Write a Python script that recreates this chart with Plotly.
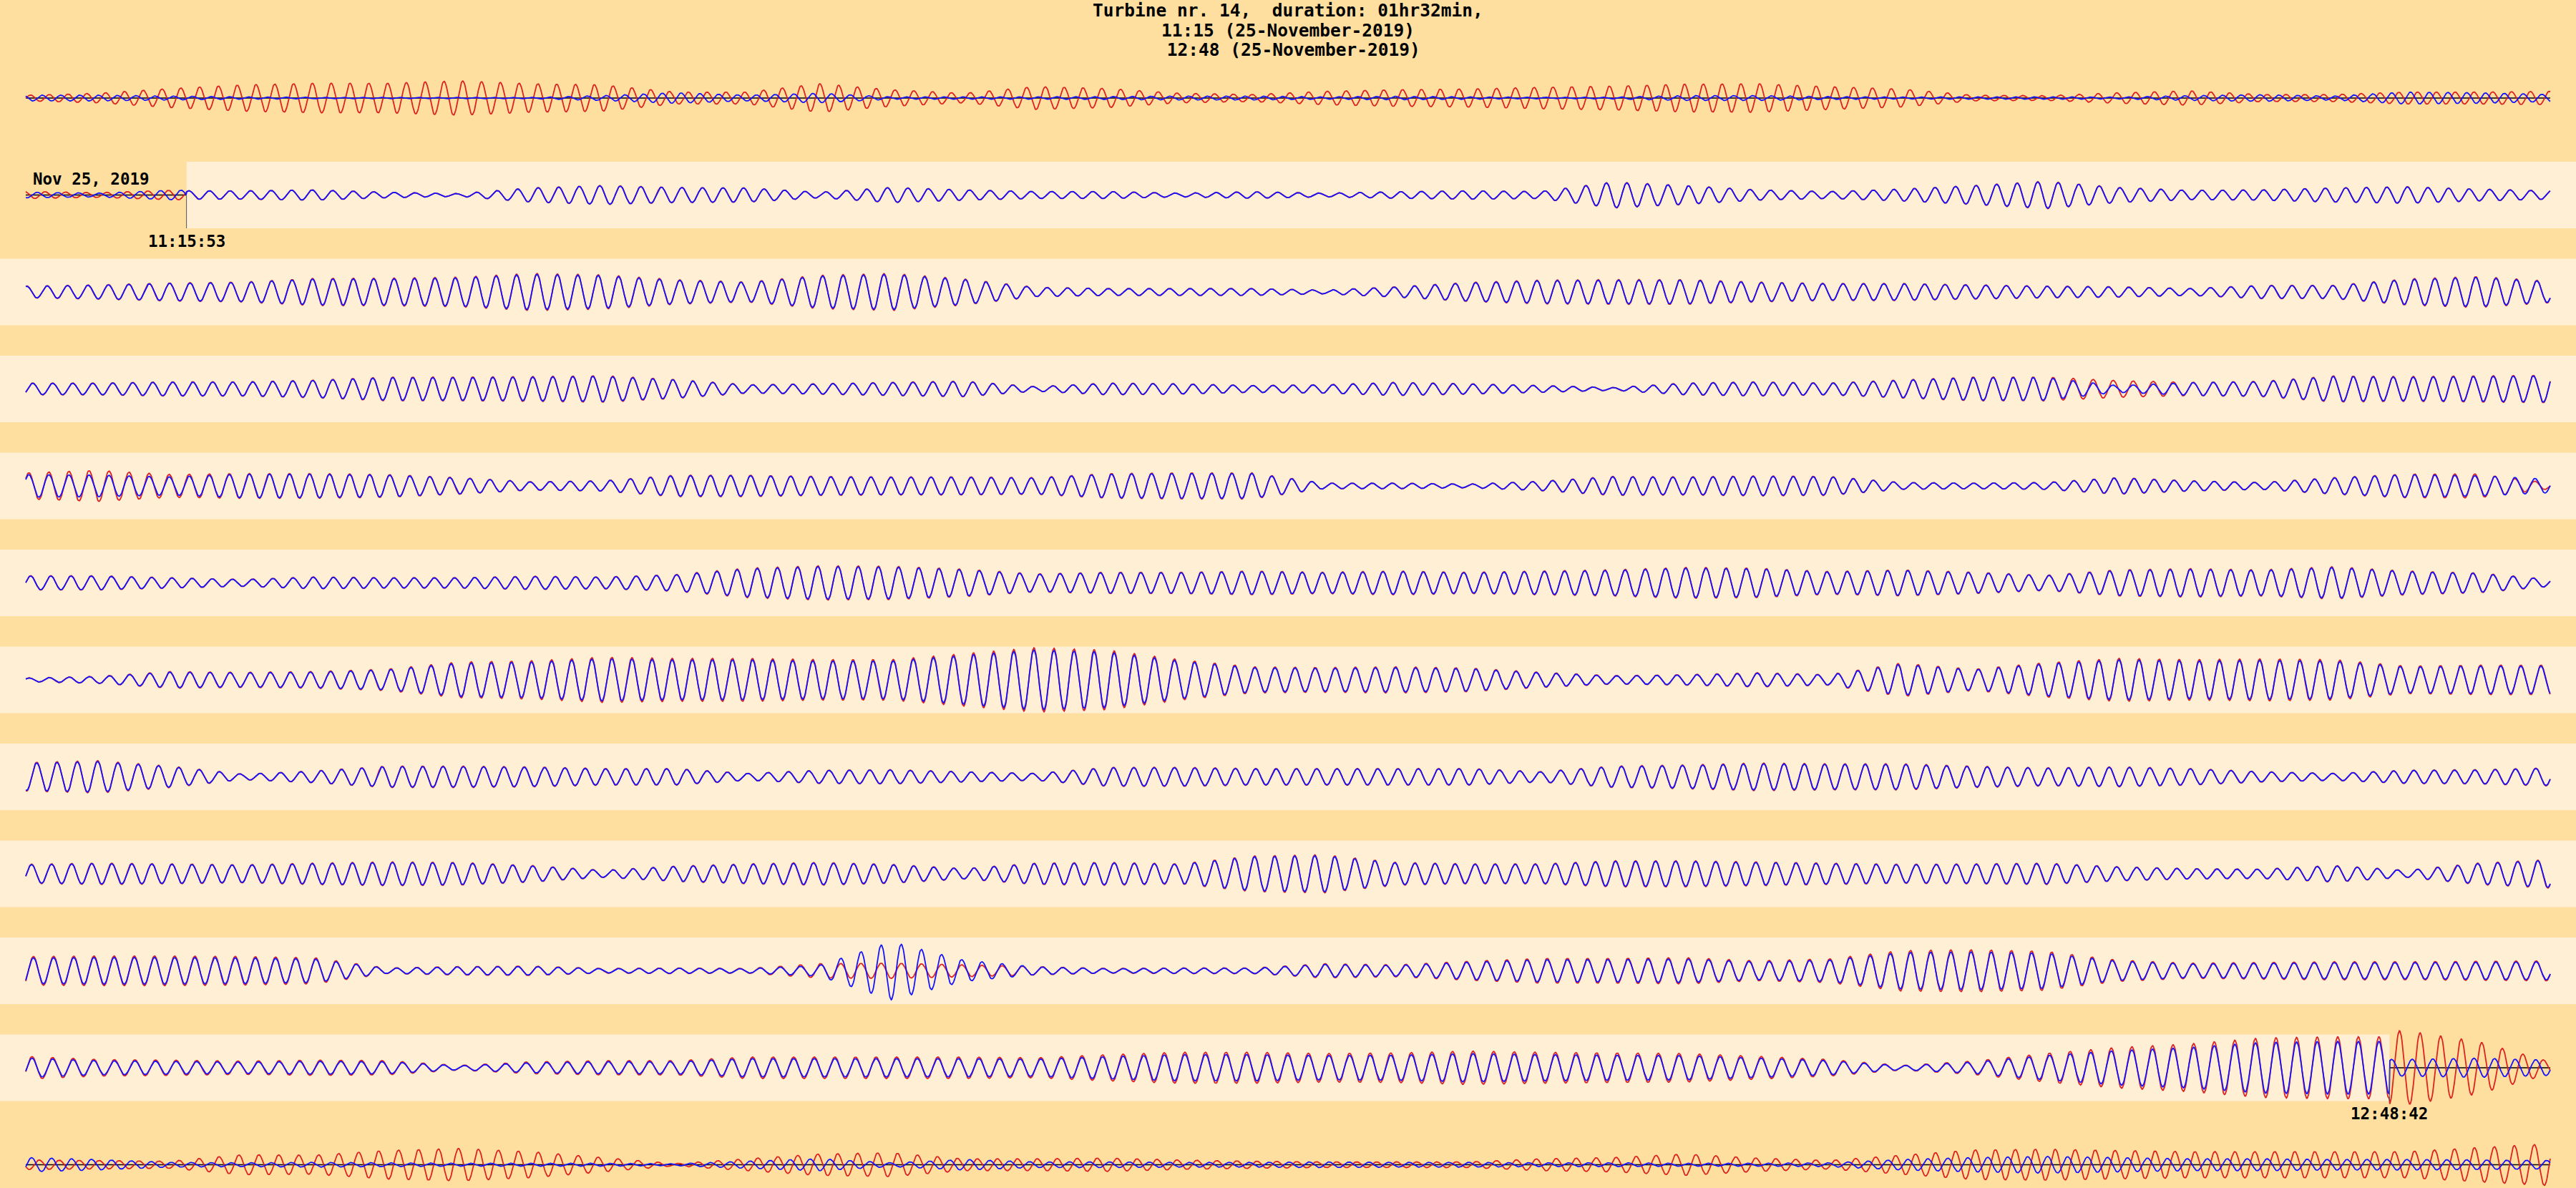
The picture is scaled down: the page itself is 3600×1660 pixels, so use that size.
import numpy as np
import plotly.graph_objects as go

# ---------------- text ----------------
title_lines = ["Turbine nr. 14,  duration: 01hr32min,",
               "11:15 (25-November-2019)",
               " 12:48 (25-November-2019)"]
date_label = "Nov 25, 2019"
start_label = "11:15:53"
end_label = "12:48:42"

# ---------------- timing ----------------
event_seconds = 5569          # 11:15:53 -> 12:48:42
pad_seconds = 600             # context shown before / after the event
n_rows = 12
row_seconds = (event_seconds + 2 * pad_seconds) / n_rows

# oscillation period in each row (seconds), read from peak spacing
row_period_s = [4.20, 4.59, 4.56, 4.47, 4.48, 4.51, 4.49, 4.54, 4.48, 4.51, 4.60, 4.46]

# ---------------- envelopes (peak amplitude, 36 equally spaced knots per row) ----------------
red_row01 = [12, 20, 40, 55, 62, 62, 72, 60, 55, 25, 25, 60, 35, 20, 48, 40, 20, 15,
             28, 35, 38, 45, 50, 58, 60, 48, 38, 12, 10, 22, 30, 15, 15, 25, 25, 28]
blue_row01 = [12, 12, 8, 5, 3, 3, 3, 3, 10, 22, 12, 20, 5, 5, 5, 6, 8, 8,
              5, 7, 5, 3, 4, 10, 10, 6, 4, 5, 5, 4, 10, 14, 8, 25, 22, 15]

red_row02 = [15, 10, 20, 18, 22, 12, 6, 30, 40, 32, 30, 12, 32, 22, 15, 15, 8, 14,
             8, 14, 18, 15, 55, 40, 22, 15, 25, 40, 58, 32, 20, 22, 30, 35, 25, 18]
blue_row02 = [12, 8, 20, 18, 22, 12, 6, 30, 40, 32, 30, 12, 32, 22, 15, 15, 8, 14,
              8, 14, 18, 15, 55, 40, 22, 15, 25, 40, 58, 32, 20, 22, 30, 35, 25, 18]

red_row03 = [25, 30, 38, 42, 57, 58, 62, 78, 72, 52, 42, 70, 78, 55, 20, 15, 15, 15,
             8, 22, 40, 50, 52, 52, 42, 36, 36, 30, 25, 22, 15, 28, 28, 55, 65, 45]
blue_row03 = red_row03

red_row04 = [25, 25, 30, 30, 37, 50, 50, 52, 56, 40, 18, 22, 28, 33, 10, 25, 22, 15,
             18, 28, 22, 15, 6, 25, 30, 25, 38, 50, 50, 35, 28, 32, 55, 52, 55, 58]
blue_row04 = [25, 25, 30, 30, 37, 50, 50, 52, 56, 40, 18, 22, 28, 33, 10, 25, 22, 15,
              18, 28, 22, 15, 6, 25, 30, 25, 38, 50, 50, 15, 28, 32, 55, 52, 55, 58]

red_row05 = [55, 65, 48, 52, 52, 48, 35, 18, 22, 45, 45, 40, 38, 38, 35, 52, 55, 55,
             12, 12, 8, 20, 40, 38, 42, 40, 15, 12, 15, 35, 22, 15, 35, 50, 50, 12]
blue_row05 = [50, 48, 40, 52, 52, 48, 35, 18, 22, 45, 45, 40, 38, 38, 35, 52, 55, 55,
              12, 12, 8, 20, 40, 38, 42, 40, 15, 12, 15, 35, 22, 15, 35, 50, 45, 30]

red_row06 = [30, 30, 22, 15, 25, 22, 22, 28, 25, 35, 62, 72, 70, 58, 38, 45, 45, 50,
             45, 50, 45, 50, 55, 65, 62, 48, 55, 45, 32, 55, 60, 55, 68, 50, 42, 15]
blue_row06 = red_row06

red_row07 = [8, 15, 35, 32, 35, 45, 75, 80, 95, 90, 90, 85, 85, 110, 135, 125, 85, 55,
             52, 55, 50, 32, 18, 22, 30, 22, 70, 45, 72, 90, 85, 88, 85, 58, 62, 62]
blue_row07 = red_row07

red_row08 = [60, 68, 45, 12, 25, 45, 45, 42, 35, 35, 15, 28, 30, 22, 15, 40, 40, 35,
             35, 35, 35, 22, 45, 50, 58, 55, 55, 45, 38, 42, 35, 22, 15, 28, 30, 38]
blue_row08 = red_row08

red_row09 = [40, 45, 42, 38, 45, 50, 48, 35, 15, 32, 42, 48, 40, 22, 45, 48, 42, 75,
             80, 48, 42, 42, 55, 55, 50, 45, 40, 42, 45, 30, 22, 20, 35, 15, 45, 60]
blue_row09 = red_row09

red_row10 = [60, 62, 62, 60, 55, 12, 18, 20, 10, 12, 10, 30, 32, 25, 18, 10, 12, 12,
             30, 25, 40, 52, 52, 55, 42, 50, 85, 88, 82, 45, 32, 35, 38, 38, 40, 42]
blue_row10 = [60, 62, 62, 60, 55, 12, 18, 20, 10, 12, 10, 25, 135, 50, 18, 10, 12, 12,
              30, 25, 40, 52, 52, 55, 42, 50, 85, 88, 82, 45, 32, 35, 38, 38, 40, 42]

red_row11 = [48, 35, 32, 28, 32, 30, 10, 25, 30, 30, 45, 45, 45, 45, 42, 55, 65, 65,
             60, 62, 70, 65, 62, 60, 48, 35, 10, 28, 60, 85, 100, 125, 130, 155, 110, 25]
blue_row11 = [48, 35, 32, 28, 32, 30, 10, 25, 30, 30, 45, 45, 45, 45, 42, 55, 65, 65,
              60, 62, 70, 65, 62, 60, 48, 35, 10, 28, 60, 85, 100, 125, 130, 35, 40, 32]

red_row12 = [20, 18, 15, 42, 40, 60, 68, 55, 30, 5, 25, 45, 50, 25, 25, 28, 20, 15,
             12, 12, 12, 25, 30, 45, 28, 18, 40, 62, 65, 60, 55, 55, 55, 55, 72, 88]
blue_row12 = [30, 22, 10, 8, 10, 8, 6, 6, 6, 4, 15, 25, 8, 22, 12, 12, 10, 10,
              12, 10, 10, 8, 8, 6, 6, 8, 22, 30, 35, 30, 25, 25, 22, 22, 20, 18]

red_rows = [red_row01, red_row02, red_row03, red_row04, red_row05, red_row06,
            red_row07, red_row08, red_row09, red_row10, red_row11, red_row12]
blue_rows = [blue_row01, blue_row02, blue_row03, blue_row04, blue_row05, blue_row06,
             blue_row07, blue_row08, blue_row09, blue_row10, blue_row11, blue_row12]

# blue / red ratio inside the event, and blue phase lag outside it
blue_in_gain = [1.0, 0.97, 0.95, 0.95, 0.95, 0.95, 0.93, 0.95, 0.95, 0.9, 0.85, 1.0]
blue_out_phase = 2.4

# ---------------- styling / layout ----------------
BG = "#FEDFA0"
BAND = "#FFEFD5"
RED = "#DD2222"
BLUE = "#1414FF"
FIG_W, FIG_H = 3600, 1660
X0_PX, X1_PX = 36, 3564
ROW0_PX, ROW_STEP_PX, BAND_HALF_PX = 137, 135.5, 46.5
UPP = 3.0  # amplitude units per pixel
FONT = "DejaVu Sans Mono"

spp = row_seconds / (X1_PX - X0_PX)
x_range = [-X0_PX * spp, (FIG_W - X0_PX) * spp]
y_range = [-(FIG_H - ROW0_PX) * UPP, ROW0_PX * UPP]
row_step = ROW_STEP_PX * UPP
band_half = BAND_HALF_PX * UPP

ev0 = pad_seconds
ev1 = pad_seconds + event_seconds

n_samp = 4000
t = np.linspace(0, row_seconds, n_samp)
tk = np.linspace(0, row_seconds, len(red_row01))


def seg_env(tt, inside, vals, row_start):
    vals = np.asarray(vals, float)
    env = np.zeros_like(tt)
    k_in = ((tk + row_start >= ev0) & (tk + row_start <= ev1))
    for flag in (True, False):
        m = inside == flag
        km = k_in == flag
        if m.any() and km.any():
            env[m] = np.interp(tt[m], tk[km], vals[km])
    return env


rx, ry, bx, by, zx, zy = [], [], [], [], [], []
shapes = []
phase0 = 0.0
row_off = []
for i in range(n_rows):
    off = -i * row_step
    row_off.append(off)
    row_start = i * row_seconds
    T = row_start + t
    inside = (T >= ev0) & (T <= ev1)
    phase = phase0 + 2 * np.pi * t / row_period_s[i]
    phase0 += 2 * np.pi * row_seconds / row_period_s[i]

    er = seg_env(t, inside, red_rows[i], row_start)
    eb = seg_env(t, inside, blue_rows[i], row_start)
    yr = er * np.sin(phase)
    yb = np.where(inside, blue_in_gain[i] * eb * np.sin(phase),
                  eb * np.sin(phase + blue_out_phase))

    rx += list(t) + [None]
    ry += list(off + yr) + [None]
    bx += list(t) + [None]
    by += list(off + yb) + [None]

    out = ~inside
    if out.any():
        zx += [t[out][0], t[out][-1], None]
        zy += [off, off, None]

    # light band for the part of the row inside the event
    s0 = max(0.0, ev0 - row_start)
    s1 = min(row_seconds, ev1 - row_start)
    if s1 > s0:
        x0 = x_range[0] if s0 <= 0 else s0
        x1 = x_range[1] if s1 >= row_seconds else s1
        shapes.append(dict(type="rect", xref="x", yref="y", x0=x0, x1=x1,
                           y0=off - band_half, y1=off + band_half,
                           fillcolor=BAND, line=dict(width=0), layer="below"))

# event start / end markers
r_start = int(ev0 // row_seconds)
t_start = ev0 - r_start * row_seconds
r_end = int(ev1 // row_seconds)
t_end = ev1 - r_end * row_seconds
for r, tm in ((r_start, t_start), (r_end, t_end)):
    shapes.append(dict(type="line", xref="x", yref="y", x0=tm, x1=tm,
                       y0=row_off[r] - band_half, y1=row_off[r],
                       line=dict(color="#555555", width=1)))

fig = go.Figure()
fig.add_trace(go.Scatter(x=zx, y=zy, mode="lines", line=dict(color="black", width=1.5),
                         hoverinfo="skip", showlegend=False))
fig.add_trace(go.Scatter(x=rx, y=ry, mode="lines", line=dict(color=RED, width=1.8),
                         hoverinfo="skip", showlegend=False))
fig.add_trace(go.Scatter(x=bx, y=by, mode="lines", line=dict(color=BLUE, width=1.8),
                         hoverinfo="skip", showlegend=False))

ann = []
for k, (line, ypx) in enumerate(zip(title_lines, [14, 42, 70])):
    ann.append(dict(text="<b>" + line.replace(" ", "\u00a0") + "</b>", xref="paper", yref="paper",
                    x=0.5, y=1 - ypx / FIG_H, xanchor="center", yanchor="middle",
                    showarrow=False, font=dict(family=FONT, size=24.5, color="black")))
ann.append(dict(text="<b>" + date_label.replace(" ", "\u00a0") + "</b>", xref="x", yref="y",
                x=(44 - X0_PX) * spp, y=row_off[r_start] + 22.5 * UPP,
                xanchor="left", yanchor="middle", showarrow=False,
                font=dict(family=FONT, size=22.5, color="black")))
ann.append(dict(text="<b>" + start_label + "</b>", xref="x", yref="y",
                x=t_start, y=row_off[r_start] - 64.5 * UPP,
                xanchor="center", yanchor="middle", showarrow=False,
                font=dict(family=FONT, size=22.5, color="black")))
ann.append(dict(text="<b>" + end_label + "</b>", xref="x", yref="y",
                x=t_end, y=row_off[r_end] - 64 * UPP,
                xanchor="center", yanchor="middle", showarrow=False,
                font=dict(family=FONT, size=22.5, color="black")))

fig.update_layout(
    width=FIG_W, height=FIG_H,
    margin=dict(l=0, r=0, t=0, b=0, pad=0),
    paper_bgcolor=BG, plot_bgcolor=BG,
    xaxis=dict(range=x_range, visible=False, fixedrange=True),
    yaxis=dict(range=y_range, visible=False, fixedrange=True),
    shapes=shapes, annotations=ann, showlegend=False,
)

fig.write_html("out.html")
